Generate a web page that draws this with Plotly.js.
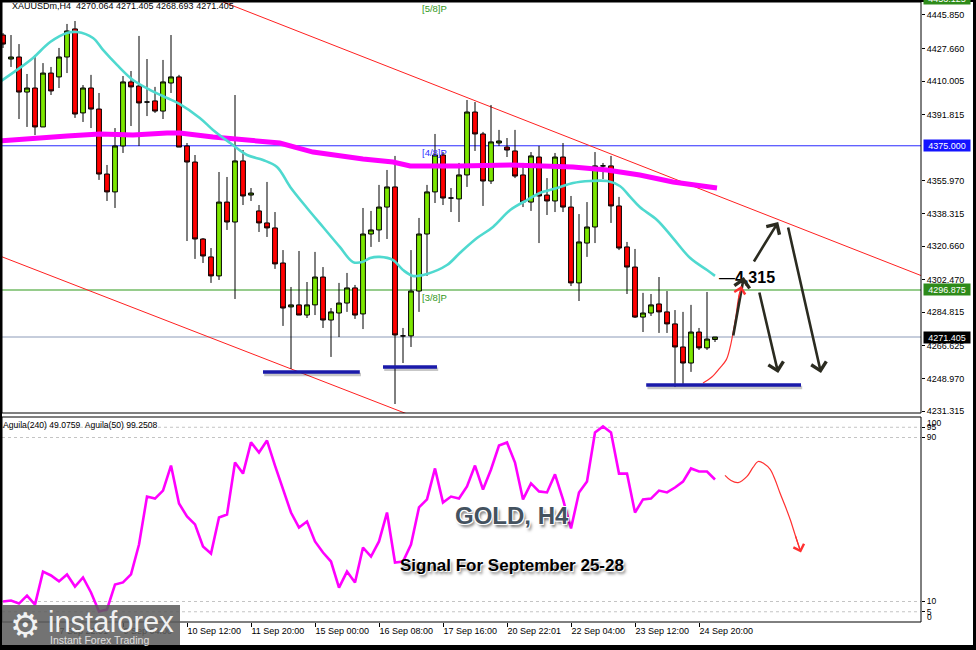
<!DOCTYPE html>
<html><head><meta charset="utf-8">
<script src="https://cdn.plot.ly/plotly-3.0.1.min.js"></script>
<style>html,body{margin:0;padding:0;background:#fff;}#chart{width:976px;height:650px;}</style>
</head><body><div id="chart"></div>
<script>
// ---- candle data (XAUUSDm H4) ----
const open = [4435.0,4422.0,4423.1,4404.1,4406.3,4385.2,4414.4,4412.3,4423.1,4438.3,
4392.8,4406.3,4394.9,4359.7,4350.0,4374.9,4409.6,4407.4,4398.7,4399.3,
4393.8,4409.0,4412.3,4374.9,4366.2,4324.5,4314.8,4304.5,4344.5,4333.7,
4366.8,4348.3,4339.7,4333.2,4330.5,4311.5,4287.7,4288.8,4283.3,4288.8,
4303.9,4280.6,4284.4,4289.8,4298.0,4283.9,4327.2,4329.4,4341.8,4352.7,
4272.0,4272.0,4296.3,4327.2,4350.0,4370.0,4346.7,4346.2,4359.2,4393.3,
4381.4,4355.9,4376.5,4374.3,4372.2,4359.2,4344.5,4368.9,4348.3,4345.1,
4368.9,4341.8,4300.7,4322.3,4331.0,4364.1,4364.1,4342.4,4320.2,4309.3,
4282.2,4284.4,4289.3,4285.0,4278.5,4266.0,4257.3,4274.1,4265.5,4270.064];
const high = [4436.1,4435.0,4430.1,4413.9,4424.2,4419.8,4417.7,4428.0,4441.0,4442.6,
4407.9,4413.4,4403.6,4364.6,4384.6,4412.8,4415.5,4434.5,4422.0,4406.9,
4421.5,4435.0,4413.4,4376.5,4370.0,4325.0,4319.6,4360.8,4358.1,4402.5,
4372.7,4352.1,4342.9,4355.4,4339.1,4318.5,4298.5,4318.0,4301.2,4317.5,
4309.3,4287.1,4300.7,4306.1,4299.6,4341.3,4339.7,4353.8,4361.9,4369.5,
4276.3,4318.5,4335.9,4353.8,4381.4,4371.6,4352.1,4365.7,4399.8,4398.7,
4382.5,4397.1,4383.6,4379.2,4383.6,4365.7,4371.6,4374.9,4357.5,4371.1,
4376.5,4347.8,4338.0,4344.5,4371.6,4365.7,4369.5,4347.3,4322.9,4319.1,
4295.3,4294.7,4303.9,4296.3,4286.0,4285.0,4288.8,4276.3,4295.8,4271.405];
const low = [4428.0,4417.7,4389.5,4385.2,4380.8,4385.2,4402.5,4406.3,4414.4,4390.1,
4387.9,4384.6,4356.5,4345.1,4341.3,4371.1,4385.7,4374.9,4391.1,4392.8,
4389.5,4403.6,4374.3,4323.4,4313.7,4311.5,4300.7,4302.3,4329.4,4292.0,
4342.9,4345.1,4328.3,4325.6,4308.3,4277.4,4254.1,4283.3,4281.7,4283.3,
4276.3,4260.6,4271.4,4285.0,4281.2,4275.7,4320.2,4322.9,4324.5,4235.1,
4257.3,4266.0,4285.0,4304.5,4344.0,4342.9,4339.1,4333.7,4352.7,4372.2,
4342.4,4354.3,4374.9,4368.9,4357.5,4341.8,4339.7,4322.3,4337.5,4339.1,
4339.1,4299.0,4290.9,4314.8,4322.3,4357.0,4333.2,4318.5,4294.7,4281.7,
4274.1,4282.8,4273.6,4273.6,4244.3,4246.0,4252.5,4264.4,4264.4,4268.693];
const close = [4430.1,4423.1,4404.1,4406.3,4385.2,4414.4,4404.7,4423.1,4437.2,4392.2,
4406.3,4394.9,4359.7,4350.0,4374.9,4409.6,4406.9,4398.2,4398.7,4393.8,
4409.6,4412.3,4374.3,4366.2,4324.5,4315.3,4304.5,4344.5,4333.7,4366.8,
4347.8,4349.4,4333.2,4330.5,4311.0,4287.1,4288.8,4283.3,4288.8,4303.9,
4280.6,4285.0,4289.8,4298.0,4283.3,4327.2,4329.4,4341.8,4352.7,4272.5,
4272.0,4296.3,4327.2,4350.0,4370.0,4346.7,4346.7,4359.2,4393.3,4381.4,
4355.9,4377.1,4377.6,4372.7,4358.6,4344.5,4369.5,4347.8,4345.1,4368.9,
4341.8,4300.7,4322.9,4331.0,4364.1,4364.1,4342.4,4319.6,4309.3,4282.2,
4284.4,4288.8,4285.0,4278.5,4266.0,4257.3,4274.1,4265.5,4270.3,4271.405];

// fast moving average (turquoise), sampled at bar positions
const fastMaBar = [-0.4,1.75,3.75,5.9,8.0,9.25,11.25,12.5,14.25,16.25,18.4,20.5,22.1,24.6,26.25,28.4,30.5,32.5,34.25,35.9,38.0,40.0,42.1,43.75,44.9,45.9,47.1,48.75,50.0,51.25,53.0,55.5,57.1,59.25,61.25,63.4,65.5,67.1,69.25,71.25,73.4,75.5,77.1,78.4,79.6,81.75,83.75,85.9,88.0,89.0];
const fastMaVal = [4409.6,4416.1,4422.6,4431.2,4436.1,4436.6,4433.4,4426.9,4418.8,4410.6,4405.2,4400.9,4397.6,4390.1,4383.6,4376.5,4370.0,4367.3,4363.5,4352.7,4341.3,4331.0,4320.2,4312.0,4312.0,4314.2,4314.8,4313.1,4307.7,4304.5,4305.6,4310.4,4316.9,4325.0,4331.0,4340.2,4345.6,4349.4,4352.1,4354.8,4355.9,4355.9,4353.2,4347.3,4341.8,4334.8,4325.0,4314.2,4307.7,4304.5];
// slow moving average (magenta)
const slowMaBar = [-0.4,3.75,8.0,12.1,16.25,20.5,22.1,26.25,30.5,34.6,38.75,43.0,45.0,48.75,50.9,57.1,63.4,67.5,71.25,75.5,79.6,83.75,88.0,89.25];
const slowMaVal = [4377.6,4379.2,4380.3,4381.4,4380.8,4381.9,4381.9,4379.8,4378.1,4376.5,4371.6,4368.9,4367.8,4366.2,4364.1,4364.1,4364.6,4364.1,4363.5,4361.9,4359.2,4355.4,4352.7,4352.1];

// oscillator (Aguila) values per bar
const aguila = [10.0,10.5,9.0,12.9,8.5,24.6,22.7,19.8,23.2,17.3,
21.7,14.4,5.1,6.1,18.3,19.3,23.2,37.8,61.2,60.2,
64.1,76.3,57.8,51.5,47.6,36.8,33.4,51.0,52.4,77.8,
72.4,87.6,82.7,88.5,76.3,64.6,53.4,46.1,49.0,39.3,
33.9,29.5,16.8,24.6,19.3,36.3,31.9,39.3,53.4,29.0,
29.5,37.8,55.9,59.8,74.9,58.3,61.2,60.2,66.1,76.3,
64.6,74.4,86.1,87.6,77.8,59.8,67.6,63.7,63.2,72.0,
59.8,45.6,63.2,68.5,92.4,95.4,92.4,72.4,72.4,53.4,
59.8,60.2,64.1,63.2,65.6,68.5,74.9,73.4,73.4,69.5];

// axis ticks
const tickBars = [7,15,23,31,39,47,55,63,71,79,87];
const tickLabels = ['7 Sep 22:01','9 Sep 04:00','10 Sep 12:00','11 Sep 20:00','15 Sep 00:00','16 Sep 08:00','17 Sep 16:00','20 Sep 22:01','22 Sep 04:00','23 Sep 12:00','24 Sep 20:00'];
const priceTicks = [4445.850,4427.660,4410.005,4391.815,4355.970,4338.315,4320.660,4302.470,4284.815,4266.625,4248.970,4231.315];
const oscTicks = [95,90,10,5];

// levels and drawings (bar index, price)
const levelBlue = 4375.000, levelGreen = 4296.875, lastPrice = 4271.405, topLevel = 4453.125;
const upperTrend = {bar:[26.9,114.75], price:[4453.98,4304.7]};
const lowerTrend = {bar:[-0.4,51.0], price:[4315.3,4228.9]};
const supports = [{bar:[32.5,44.6], price:4252.4},{bar:[47.5,54.25], price:4255.2},{bar:[80.4,99.75], price:4245.4}];
const arrowFromBar = [91.25,93.75,94.5,98.1];
const arrowFromPrice = [4271.4,4311.5,4296.3,4331.5];
const arrowToBar = [92.6,96.9,96.9,102.25];
const arrowToPrice = [4303.9,4333.7,4251.9,4251.9];
const curveMainBar = [87.5,88.6,89.6,90.4,90.9,91.25,91.6,91.9,92.1];
const curveMainPrice = [4246.5,4249.7,4254.6,4259.0,4266.0,4273.6,4282.2,4291.5,4295.8];
const curveOscBar = [90.25,91.0,91.9,93.0,93.75,94.4,95.1,95.9,96.5,97.1,97.75,98.4,99.0,99.6];
const curveOscVal = [71.5,69.0,68.0,71.0,75.4,78.3,77.3,74.4,69.5,63.2,56.8,50.0,42.7,35.4];

const barIndex = open.map((_, i) => i);

// ---- geometry helpers (pixel -> paper) ----
const W = 976, H = 650, ML = 2, MR = 55, MT = 2, MB = 28;
const px = x => (x - ML) / (W - ML - MR);
const py = y => (H - MB - y) / (H - MT - MB);
const FONT = 'Liberation Sans, Arial, sans-serif';

const traces = [
  {type:'scatter', mode:'lines', x:slowMaBar, y:slowMaVal, xaxis:'x', yaxis:'y',
   line:{color:'#ff00ff', width:5}, hoverinfo:'skip'},
  {type:'scatter', mode:'lines', x:fastMaBar, y:fastMaVal, xaxis:'x', yaxis:'y',
   line:{color:'#4fd9cf', width:2.6, shape:'spline'}, hoverinfo:'skip'},
  {type:'candlestick', x:barIndex, open:open, high:high, low:low, close:close, xaxis:'x', yaxis:'y',
   increasing:{line:{color:'#000', width:1}, fillcolor:'#7ce600'},
   decreasing:{line:{color:'#000', width:1}, fillcolor:'#ff0000'},
   whiskerwidth:0, hoverinfo:'skip'},
  {type:'scatter', mode:'lines', x:curveMainBar, y:curveMainPrice, xaxis:'x', yaxis:'y',
   line:{color:'#ff3030', width:1.2, shape:'spline'}, hoverinfo:'skip'},
  {type:'scatter', mode:'lines', x:barIndex, y:aguila, xaxis:'x', yaxis:'y2',
   line:{color:'#ff00ff', width:2.6}, hoverinfo:'skip'},
  {type:'scatter', mode:'lines', x:curveOscBar, y:curveOscVal, xaxis:'x', yaxis:'y2',
   line:{color:'#ff3030', width:1.2, shape:'spline'}, hoverinfo:'skip'}
];

const shapes = [];
// price levels
shapes.push({type:'line', xref:'x domain', yref:'y', x0:0, x1:1, y0:levelBlue, y1:levelBlue, line:{color:'#2a2aff', width:1}, layer:'below'});
shapes.push({type:'line', xref:'x domain', yref:'y', x0:0, x1:1, y0:levelGreen, y1:levelGreen, line:{color:'#2f9a1a', width:1.2}, layer:'below'});
shapes.push({type:'line', xref:'x domain', yref:'y', x0:0, x1:1, y0:lastPrice, y1:lastPrice, line:{color:'#8c9bb8', width:1}, layer:'below'});
// trend lines
[upperTrend, lowerTrend].forEach(t => shapes.push({type:'line', xref:'x', yref:'y', x0:t.bar[0], x1:t.bar[1], y0:t.price[0], y1:t.price[1], line:{color:'#ff2020', width:1}, layer:'below'}));
// supports with soft shadow
supports.forEach(s => {
  shapes.push({type:'line', xref:'x', yref:'y', x0:s.bar[0]+0.15, x1:s.bar[1]+0.15, y0:s.price-1.3, y1:s.price-1.3, line:{color:'rgba(0,0,0,0.22)', width:3.5}});
  shapes.push({type:'line', xref:'x', yref:'y', x0:s.bar[0], x1:s.bar[1], y0:s.price, y1:s.price, line:{color:'#1a1aaa', width:3.5}});
});
// oscillator level lines
oscTicks.forEach(v => shapes.push({type:'line', xref:'x domain', yref:'y2', x0:0, x1:1, y0:v, y1:v, line:{color:'#c4c4c4', width:1, dash:'3px,3px'}, layer:'below'}));
// panel frames
shapes.push({type:'rect', xref:'paper', yref:'paper', x0:0, x1:1, y0:py(413), y1:1, line:{color:'#000', width:1}});
shapes.push({type:'rect', xref:'paper', yref:'paper', x0:0, x1:1, y0:0, y1:py(417), line:{color:'#000', width:1}});
// logo box
shapes.push({type:'rect', xref:'paper', yref:'paper', x0:px(2), x1:px(180), y0:py(648), y1:py(605), fillcolor:'rgba(92,92,92,0.86)', line:{width:0}});
// outer black frame
const band = (x0,x1,y0,y1) => shapes.push({type:'rect', xref:'paper', yref:'paper', x0:px(x0), x1:px(x1), y0:py(y1), y1:py(y0), fillcolor:'#000', line:{width:0}});
band(0,976,0,2); band(0,2,0,650); band(973,976,0,650); band(0,976,645,650);

const annotations = [];
// header text
annotations.push({xref:'paper', yref:'paper', x:px(10), y:py(6), xanchor:'left', yanchor:'middle', showarrow:false,
  text:'XAUUSDm,H4  4270.064 4271.405 4268.693 4271.405', font:{family:FONT, size:9, color:'#000'}});
annotations.push({xref:'paper', yref:'paper', x:px(1), y:py(425), xanchor:'left', yanchor:'middle', showarrow:false,
  text:'Aguila(240) 49.0759  Aguila(50) 99.2508', font:{family:FONT, size:8.6, color:'#000'}});
// murrey labels
annotations.push({xref:'paper', yref:'paper', x:px(420), y:py(8.5), xanchor:'left', yanchor:'middle', showarrow:false, text:'[5/8]P', font:{family:FONT, size:9.5, color:'#339922'}});
annotations.push({xref:'paper', yref:'paper', x:px(420), y:py(152), xanchor:'left', yanchor:'middle', showarrow:false, text:'[4/8]P', font:{family:FONT, size:9.5, color:'#3030ff'}});
annotations.push({xref:'paper', yref:'paper', x:px(420), y:py(297), xanchor:'left', yanchor:'middle', showarrow:false, text:'[3/8]P', font:{family:FONT, size:9.5, color:'#339922'}});
// price boxes on the axis
const priceBox = (val, bg, yref) => annotations.push({xref:'paper', yref:'y', x:1, xshift:2, y:val, xanchor:'left', yanchor:'middle',
  showarrow:false, text:val.toFixed(3), bgcolor:bg, width:45, height:10, borderpad:0.5, font:{family:FONT, size:9, color:'#fff'}});
priceBox(levelBlue, '#1414ff'); priceBox(levelGreen, '#2e8b1a'); priceBox(lastPrice, '#000');
annotations.push({xref:'paper', yref:'paper', x:1, xshift:2, y:py(-1), xanchor:'left', yanchor:'middle', showarrow:false,
  text:topLevel.toFixed(3), bgcolor:'#2e8b1a', width:45, height:10, borderpad:0.5, font:{family:FONT, size:9, color:'#fff'}});
// oscillator extreme labels
annotations.push({xref:'paper', yref:'paper', x:px(925), y:py(423), xanchor:'left', yanchor:'middle', showarrow:false, text:'100', font:{family:FONT, size:8.5, color:'#000'}});
annotations.push({xref:'paper', yref:'paper', x:px(925), y:py(616.5), xanchor:'left', yanchor:'middle', showarrow:false, text:'0', font:{family:FONT, size:8.5, color:'#000'}});
// target label
annotations.push({xref:'paper', yref:'paper', x:px(717), y:py(277), xanchor:'left', yanchor:'middle', showarrow:false,
  text:'—<b>4,315</b>', font:{family:FONT, size:16, color:'#000'}});
// black arrows
arrowFromBar.forEach((b, i) => annotations.push({xref:'x', yref:'y', axref:'x', ayref:'y', x:arrowToBar[i], y:arrowToPrice[i], ax:b, ay:arrowFromPrice[i],
  showarrow:true, arrowhead:4, arrowsize:1.15, arrowwidth:2.6, arrowcolor:'#2b2b20', text:''}));
// red arrow heads at curve ends
annotations.push({xref:'x', yref:'y', axref:'x', ayref:'y', x:92.3, y:4299.0, ax:curveMainBar[7], ay:curveMainPrice[7],
  showarrow:true, arrowhead:4, arrowsize:1.8, arrowwidth:1.2, arrowcolor:'#ff3030', text:''});
annotations.push({xref:'x', yref:'y2', axref:'x', ayref:'y2', x:99.75, y:33.9, ax:curveOscBar[12], ay:curveOscVal[12],
  showarrow:true, arrowhead:4, arrowsize:1.8, arrowwidth:1.2, arrowcolor:'#ff3030', text:''});
// big captions
annotations.push({xref:'paper', yref:'paper', x:px(512), y:py(515), xanchor:'center', yanchor:'middle', showarrow:false,
  text:'<b>GOLD, H4</b>', font:{family:FONT, size:24, color:'#44525f',
  shadow:'-1px -1px 0 #fff, 1px -1px 0 #fff, -1px 1px 0 #fff, 1px 1px 0 #fff, 2px 3px 3px rgba(0,0,0,0.55)'}});
annotations.push({xref:'paper', yref:'paper', x:px(512), y:py(565), xanchor:'center', yanchor:'middle', showarrow:false,
  text:'<b>Signal For September 25-28</b>', font:{family:FONT, size:17, color:'#000',
  shadow:'1px 1px 0 #fff, 2px 3px 3px rgba(0,0,0,0.5)'}});
// logo
annotations.push({xref:'paper', yref:'paper', x:px(25), y:py(625), xanchor:'center', yanchor:'middle', showarrow:false,
  text:'⚙', font:{family:'DejaVu Sans', size:34, color:'#f2f2f2'}});
annotations.push({xref:'paper', yref:'paper', x:px(46), y:py(622), xanchor:'left', yanchor:'middle', showarrow:false,
  text:'instaforex', font:{family:FONT, size:29, color:'#f0f0f0'}});
annotations.push({xref:'paper', yref:'paper', x:px(48), y:py(640), xanchor:'left', yanchor:'middle', showarrow:false,
  text:'Instant Forex Trading', font:{family:FONT, size:10.5, color:'#e0e0e0'}});

const layout = {
  width:W, height:H, margin:{l:ML, r:MR, t:MT, b:MB},
  paper_bgcolor:'#fff', plot_bgcolor:'#fff', showlegend:false, hovermode:false,
  boxgap:0.4, boxgroupgap:0,
  xaxis:{domain:[0,1], range:[-0.125,114.75], anchor:'y2', rangeslider:{visible:false},
    tickvals:tickBars, ticktext:tickLabels, ticks:'outside', ticklen:4, tickcolor:'#000',
    ticklabelposition:'outside right', tickfont:{family:FONT, size:9, color:'#000'},
    showgrid:false, zeroline:false, showline:false, fixedrange:true},
  yaxis:{domain:[py(413),1], range:[4230.23,4452.89], side:'right', anchor:'x',
    tickvals:priceTicks, ticktext:priceTicks.map(v => v.toFixed(3)), ticks:'outside', ticklen:3, tickcolor:'#000',
    tickfont:{family:FONT, size:9, color:'#000'}, showgrid:false, zeroline:false, showline:false, fixedrange:true},
  yaxis2:{domain:[0,py(417)], range:[0,100], side:'right', anchor:'x',
    tickvals:oscTicks, ticktext:oscTicks.map(String), ticks:'outside', ticklen:3, tickcolor:'#000',
    tickfont:{family:FONT, size:8.5, color:'#000'}, showgrid:false, zeroline:false, showline:false, fixedrange:true},
  shapes:shapes, annotations:annotations
};

Plotly.newPlot('chart', traces, layout, {staticPlot:true, displayModeBar:false});
</script></body></html>
